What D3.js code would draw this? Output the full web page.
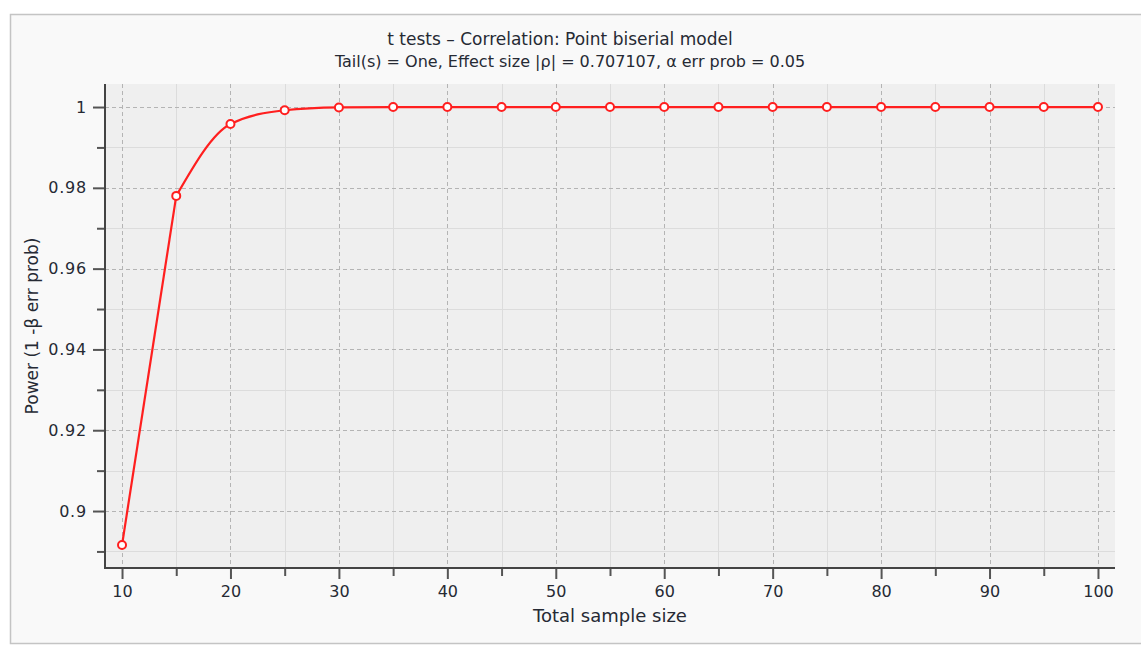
<!DOCTYPE html>
<html lang="en">
<head>
<meta charset="UTF-8" />
<title>Point biserial power</title>
<script src="https://d3js.org/d3.v7.min.js"></script>
<style>
  body { margin: 0; background: #fff; }
  svg text { font-family: "DejaVu Sans", sans-serif; fill: #262a34; }
</style>
</head>
<body>
<div id="svgCanvas"></div>
<script>
// data
var sampleSizes = [10, 15, 20, 25, 30, 35, 40, 45, 50, 55, 60, 65, 70, 75, 80, 85, 90, 95, 100];
var powerValues = [0.8916, 0.9780, 0.9958, 0.9992, 0.9999, 1.0000, 1.0000, 1.0000, 1.0000, 1.0000,
                   1.0000, 1.0000, 1.0000, 1.0000, 1.0000, 1.0000, 1.0000, 1.0000, 1.0000];
var xMajorTicks = [10, 20, 30, 40, 50, 60, 70, 80, 90, 100];
var xMinorTicks = [15, 25, 35, 45, 55, 65, 75, 85, 95];
var yMajorTicks = [0.9, 0.92, 0.94, 0.96, 0.98, 1];
var yMinorTicks = [0.89, 0.91, 0.93, 0.95, 0.97, 0.99];
var titleText = "t tests \u2013 Correlation: Point biserial model";
var subtitleText = "Tail(s) = One, Effect size |\u03c1| = 0.707107, \u03b1 err prob = 0.05";
var xTitle = "Total sample size";
var yTitle = "Power (1 -\u03b2 err prob)";

var W = 1141, H = 652;
var plot = { left: 105, right: 1115, top: 84, bottom: 568 };

var svg = d3.select("#svgCanvas").append("svg")
  .attr("width", W).attr("height", H);

// outer panel
svg.append("rect").attr("x", 10.5).attr("y", 14.5).attr("width", W).attr("height", 629)
  .attr("fill", "#f9f9f9").attr("stroke", "#c4c4c4").attr("stroke-width", 1.5);

var x = d3.scaleLinear().domain([8.43, 101.57]).range([plot.left, plot.right]);
var y = d3.scaleLinear().domain([0.8859, 1.0057]).range([plot.bottom, plot.top]);

// plot background
svg.append("rect")
  .attr("x", plot.left).attr("y", plot.top)
  .attr("width", plot.right - plot.left).attr("height", plot.bottom - plot.top)
  .attr("fill", "#efefef");

// grid - minor
svg.selectAll("line.vminor").data(xMinorTicks).enter().append("line")
  .attr("x1", d => Math.round(x(d)) + 0.5).attr("x2", d => Math.round(x(d)) + 0.5)
  .attr("y1", plot.top).attr("y2", plot.bottom)
  .attr("stroke", "#dcdcdc").attr("stroke-width", 1);
svg.selectAll("line.hminor").data(yMinorTicks).enter().append("line")
  .attr("y1", d => Math.round(y(d)) + 0.5).attr("y2", d => Math.round(y(d)) + 0.5)
  .attr("x1", plot.left).attr("x2", plot.right)
  .attr("stroke", "#dcdcdc").attr("stroke-width", 1);

// grid - major dashed
svg.selectAll("line.vmajor").data(xMajorTicks).enter().append("line")
  .attr("x1", d => Math.round(x(d)) + 0.5).attr("x2", d => Math.round(x(d)) + 0.5)
  .attr("y1", plot.top).attr("y2", plot.bottom)
  .attr("stroke", "#b4b4b4").attr("stroke-width", 1).attr("stroke-dasharray", "4,3");
svg.selectAll("line.hmajor").data(yMajorTicks).enter().append("line")
  .attr("y1", d => Math.round(y(d)) + 0.5).attr("y2", d => Math.round(y(d)) + 0.5)
  .attr("x1", plot.left).attr("x2", plot.right)
  .attr("stroke", "#b4b4b4").attr("stroke-width", 1).attr("stroke-dasharray", "4,3");

// axes
var xAxis = d3.axisBottom(x).tickValues(xMajorTicks).tickSize(11).tickPadding(7)
  .tickFormat(d3.format("d"));
var xAxisMinor = d3.axisBottom(x).tickValues(xMinorTicks).tickSize(8).tickFormat("");
var yAxis = d3.axisLeft(y).tickValues(yMajorTicks).tickSize(12).tickPadding(6)
  .tickFormat(d => d === 1 ? "1" : d3.format(".2~f")(d));
var yAxisMinor = d3.axisLeft(y).tickValues(yMinorTicks).tickSize(8).tickFormat("");

function styleAxis(g) {
  g.select(".domain").remove();
  g.selectAll(".tick line").attr("stroke", "#555").attr("stroke-width", 2);
  g.selectAll(".tick text").attr("font-size", 16).attr("fill", "#262a34")
    .attr("font-family", "DejaVu Sans, sans-serif");
}
svg.append("g").attr("transform", "translate(0," + plot.bottom + ")").call(xAxisMinor).call(styleAxis);
svg.append("g").attr("transform", "translate(0," + plot.bottom + ")").call(xAxis).call(styleAxis);
svg.append("g").attr("transform", "translate(" + plot.left + ",0)").call(yAxisMinor).call(styleAxis);
svg.append("g").attr("transform", "translate(" + plot.left + ",0)").call(yAxis).call(styleAxis)
  .selectAll(".tick text").attr("letter-spacing", 0.8);

// axis lines
svg.append("path")
  .attr("d", "M" + plot.left + "," + plot.top + "V" + plot.bottom + "H" + plot.right)
  .attr("fill", "none").attr("stroke", "#444").attr("stroke-width", 2);

// curve: straight first segment, then smooth
var pts = sampleSizes.map((n, i) => ({ n: n, p: powerValues[i] }));
var lineStraight = d3.line().x(d => x(d.n)).y(d => y(d.p));
var lineSmooth = d3.line().curve(d3.curveMonotoneX).x(d => x(d.n)).y(d => y(d.p));
svg.append("path").attr("d", lineStraight(pts.slice(0, 2)))
  .attr("fill", "none").attr("stroke", "#ff1f1f").attr("stroke-width", 2.2);
svg.append("path").attr("d", lineSmooth(pts.slice(1)))
  .attr("fill", "none").attr("stroke", "#ff1f1f").attr("stroke-width", 2.2);

svg.selectAll("circle.pt").data(pts).enter().append("circle")
  .attr("cx", d => x(d.n)).attr("cy", d => y(d.p)).attr("r", 4)
  .attr("fill", "#fff").attr("stroke", "#ff1f1f").attr("stroke-width", 2);

// titles
svg.append("text").attr("x", 560).attr("y", 45).attr("text-anchor", "middle")
  .attr("font-size", 17).text(titleText);
svg.append("text").attr("x", 570).attr("y", 67).attr("text-anchor", "middle")
  .attr("font-size", 16).text(subtitleText);
svg.append("text").attr("x", 610).attr("y", 622).attr("text-anchor", "middle")
  .attr("font-size", 18).text(xTitle);
svg.append("text").attr("transform", "translate(38,326) rotate(-90)")
  .attr("text-anchor", "middle").attr("font-size", 17).text(yTitle);
</script>
</body>
</html>
